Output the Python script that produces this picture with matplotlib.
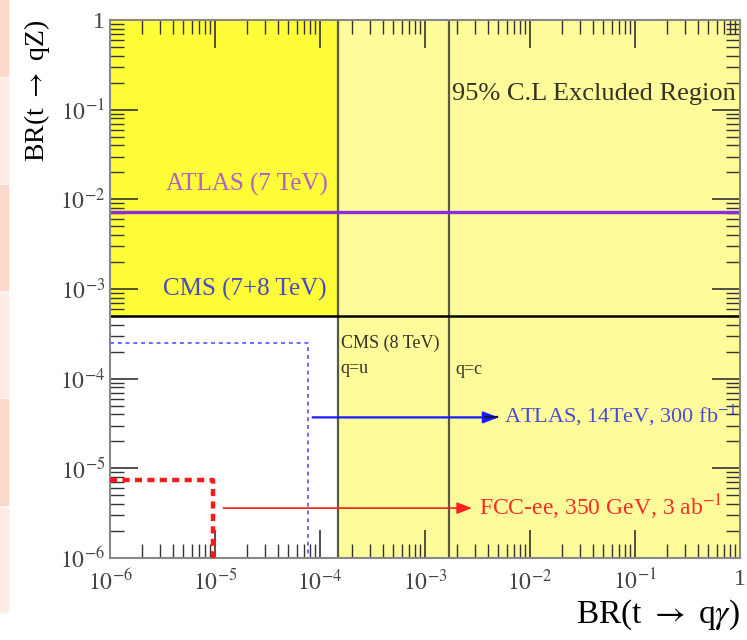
import matplotlib
matplotlib.use("Agg")
import matplotlib.pyplot as plt
from matplotlib.patches import Rectangle
from matplotlib.ticker import FixedLocator, NullFormatter, FuncFormatter
import numpy as np

plt.rcParams["font.family"] = ["Liberation Serif", "DejaVu Serif"]
plt.rcParams["mathtext.fontset"] = "stix"

# limits (x: BR(t->q gamma), y: BR(t->qZ))
XLIM = (1e-6, 1.0)
YLIM = (1e-6, 1.0)
decades = [-6, -5, -4, -3, -2, -1, 0]
qz_excl = 5e-4            # CMS 7+8 TeV, t->qZ
qg_excl_u = 1.5e-4        # CMS 8 TeV, q=u
qg_excl_c = 1.7e-3        # CMS 8 TeV, q=c
atlas7_qz = 7.3e-3        # ATLAS 7 TeV, t->qZ
# ATLAS 14 TeV 300 fb-1 projection (box corner)
atlas14_qg, atlas14_qz = 7.7e-5, 2.5e-4
# FCC-ee 350 GeV 3 ab-1 projection (box corner)
fcc_qg, fcc_qz = 9.5e-6, 7.4e-6
# arrows: (x start, x end, y)
atlas14_arrow = (8.5e-5, 5.0e-3, 3.7e-5)
fcc_arrow = (1.2e-5, 2.8e-3, 3.6e-6)

# slide background bands on the left edge (pixel y ranges, colour)
bands = [(0, 76, "#fcd8ca"), (78, 183, "#fdede6"), (185, 290, "#fcd8ca"),
         (292, 397, "#fdede6"), (399, 505, "#fcd8ca"), (508, 612, "#fdede6")]

W, H = 747, 640
fig = plt.figure(figsize=(W / 100, H / 100), dpi=100)
for y0, y1, c in bands:
    fig.patches.append(Rectangle((0, 1 - y1 / H), 8 / W, (y1 - y0) / H,
                                 transform=fig.transFigure, color=c, zorder=0))

ax = fig.add_axes([110 / W, 1 - 558 / H, 630 / W, 538 / H])
ax.set_xscale("log")
ax.set_yscale("log")
ax.set_xlim(*XLIM)
ax.set_ylim(*YLIM)

light, bright = "#fdfb9a", "#fffd38"
# excluded regions
ax.add_patch(Rectangle((qg_excl_u, YLIM[0]), XLIM[1] - qg_excl_u, YLIM[1] - YLIM[0],
                       color=light, lw=0, zorder=0))
ax.add_patch(Rectangle((XLIM[0], qz_excl), XLIM[1] - XLIM[0], YLIM[1] - qz_excl,
                       color=light, lw=0, zorder=0))
ax.add_patch(Rectangle((XLIM[0], qz_excl), qg_excl_u - XLIM[0], YLIM[1] - qz_excl,
                       color=bright, lw=0, zorder=0))

ax.axvline(qg_excl_u, color="#5a5a40", lw=1.6, zorder=2)
ax.axvline(qg_excl_c, color="#5a5a40", lw=1.6, zorder=2)
ax.axhline(qz_excl, color="black", lw=1.8, zorder=2)
ax.axhline(atlas7_qz, color="#8a2be2", lw=2.4, zorder=2)

# projections
ax.plot([XLIM[0], atlas14_qg, atlas14_qg], [atlas14_qz, atlas14_qz, YLIM[0]],
        color="#6a6aff", lw=1.4, ls=(0, (2, 2)), zorder=3)
ax.plot([XLIM[0], fcc_qg, fcc_qg], [fcc_qz, fcc_qz, YLIM[0]],
        color="#ff1a1a", lw=3.2, ls=(0, (1.6, 1.2)), zorder=3)

x0, x1, y = atlas14_arrow
ax.annotate("", xy=(x1, y), xytext=(x0, y),
            arrowprops=dict(arrowstyle="-|>,head_length=0.9,head_width=0.35",
                            color="#1a1aff", lw=1.6, shrinkA=0, shrinkB=0), zorder=4)
ax.plot([x1 * 0.75, x1 * 0.97], [y, y], color="#101060", lw=1.6, zorder=4)
x0, x1, y = fcc_arrow
ax.annotate("", xy=(x1, y), xytext=(x0, y),
            arrowprops=dict(arrowstyle="-|>,head_length=0.9,head_width=0.35",
                            color="#ff2020", lw=1.2, shrinkA=0, shrinkB=0), zorder=4)

# labels
ax.text(1.2e-4, 1.45e-2, "ATLAS (7 TeV)", color="#b060c8", fontsize=18,
        ha="right", va="center")
ax.text(1.15e-4, 1.0e-3, "CMS (7+8 TeV)", color="#4848c8", fontsize=18,
        ha="right", va="center")
ax.text(1.8e-3, 0.15, "95% C.L Excluded Region", color="#333322", fontsize=19,
        ha="left", va="center", clip_on=False)
ax.text(1.6e-4, 2.5e-4, "CMS (8 TeV)", color="#333322", fontsize=13,
        ha="left", va="center")
ax.text(1.55e-4, 1.3e-4, "q=u", color="#333322", fontsize=13, ha="left", va="center")
ax.text(1.95e-3, 1.25e-4, "q=c", color="#333322", fontsize=13, ha="left", va="center")
ax.text(5.6e-3, 3.9e-5, r"ATLAS, 14TeV, 300 fb$^{-1}$", color="#4a4ad8", fontsize=16,
        ha="left", va="center", clip_on=False)
ax.text(3.3e-3, 3.7e-6, r"FCC-ee, 350 GeV, 3 ab$^{-1}$", color="#ff2a2a", fontsize=17,
        ha="left", va="center")

ax.set_xlabel(r"BR(t $\rightarrow$ q$\gamma$)", fontsize=24, loc="right", labelpad=2)
ax.set_ylabel(r"BR(t $\rightarrow$ qZ)", fontsize=20, loc="top", labelpad=6)


def dec_fmt(v, pos):
    e = int(round(np.log10(v)))
    return "1" if e == 0 else r"$10^{%d}$" % e


majors = [10.0 ** e for e in decades]
minors = [m * 10.0 ** e for e in decades[:-1] for m in range(2, 10)]
for axis in (ax.xaxis, ax.yaxis):
    axis.set_major_locator(FixedLocator(majors))
    axis.set_minor_locator(FixedLocator(minors))
    axis.set_major_formatter(FuncFormatter(dec_fmt))
    axis.set_minor_formatter(NullFormatter())
ax.tick_params(which="both", direction="in", top=True, right=True, colors="#333333",
               labelcolor="#444444", labelsize=17)
ax.tick_params(which="major", length=20, width=1.2)
ax.tick_params(which="minor", length=10, width=1.0)
ax.tick_params(axis="x", pad=8)
for s in ax.spines.values():
    s.set_color("#888888")
    s.set_linewidth(1.5)

fig.savefig("out.png", dpi=100)
